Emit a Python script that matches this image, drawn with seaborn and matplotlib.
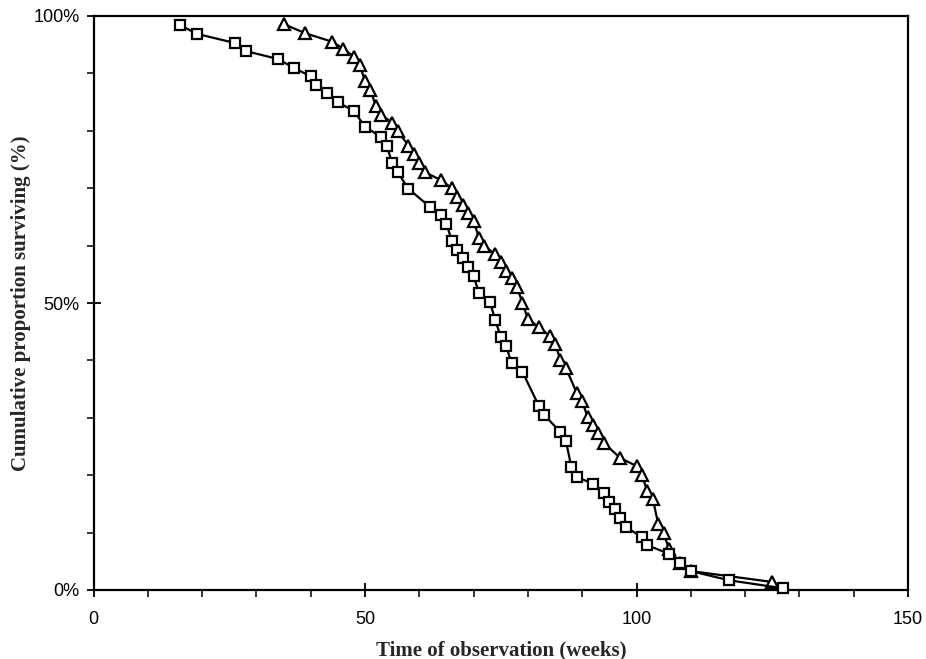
import matplotlib
matplotlib.use("Agg")
import matplotlib.pyplot as plt
from matplotlib.ticker import MultipleLocator, FuncFormatter
import seaborn as sns
import pandas as pd

# Series A (squares): weeks and cumulative proportion surviving (%)
sq_weeks = [16, 19, 26, 28, 34, 37, 40, 41, 43, 45, 48, 50, 53, 54, 55, 56, 58,
            62, 64, 65, 66, 67, 68, 69, 70, 71, 73, 74, 75, 76, 77, 79, 82, 83,
            86, 87, 88, 89, 92, 94, 95, 96, 97, 98, 101, 102, 106, 108, 110, 117, 127]
sq_surv = [98.4, 96.9, 95.3, 93.9, 92.5, 90.9, 89.5, 88.0, 86.6, 85.0, 83.4, 80.7,
           78.9, 77.4, 74.4, 72.8, 69.9, 66.7, 65.3, 63.8, 60.8, 59.2, 57.8, 56.3,
           54.7, 51.7, 50.2, 47.0, 44.1, 42.5, 39.5, 38.0, 32.1, 30.5, 27.5, 26.0,
           21.4, 19.7, 18.5, 16.9, 15.3, 14.1, 12.5, 11.0, 9.2, 7.8, 6.3, 4.7, 3.3,
           1.7, 0.3]

# Series B (triangles)
tr_weeks = [35, 39, 44, 46, 48, 49, 50, 51, 52, 53, 55, 56, 58, 59, 60, 61, 64,
            66, 67, 68, 69, 70, 71, 72, 74, 75, 76, 77, 78, 79, 80, 82, 84, 85,
            86, 87, 89, 90, 91, 92, 93, 94, 97, 100, 101, 102, 103, 104, 105, 106,
            108, 110, 125]
tr_surv = [98.6, 97.0, 95.5, 94.3, 92.9, 91.5, 88.7, 87.1, 84.3, 82.8, 81.4, 80.0,
           77.4, 76.0, 74.4, 72.8, 71.4, 70.0, 68.5, 67.1, 65.7, 64.3, 61.3, 59.9,
           58.5, 57.1, 55.6, 54.4, 52.8, 50.0, 47.2, 45.8, 44.3, 42.9, 40.1, 38.7,
           34.3, 32.9, 30.1, 28.7, 27.4, 25.6, 23.0, 21.6, 20.0, 17.2, 15.9, 11.5,
           9.9, 7.1, 4.7, 3.3, 1.4]

x_label = "Time of observation (weeks)"
y_label = "Cumulative proportion surviving (%)"

df_sq = pd.DataFrame({"weeks": sq_weeks, "surv": sq_surv})
df_tr = pd.DataFrame({"weeks": tr_weeks, "surv": tr_surv})

sns.set_theme(style="ticks")
plt.rcParams["font.family"] = ["Liberation Sans", "DejaVu Sans"]

fig = plt.figure(figsize=(9.26, 6.59), dpi=100)
ax = fig.add_axes([93.5 / 926, 1 - 590 / 659, (908 - 93.5) / 926, (590 - 16) / 659])

sns.lineplot(data=df_tr, x="weeks", y="surv", ax=ax, estimator=None, sort=False,
             color="black", linewidth=1.6, marker="^", markersize=8.5,
             markerfacecolor="white", markeredgecolor="black", markeredgewidth=1.6,
             clip_on=False, zorder=3)
sns.lineplot(data=df_sq, x="weeks", y="surv", ax=ax, estimator=None, sort=False,
             color="black", linewidth=1.6, marker="s", markersize=7.5,
             markerfacecolor="white", markeredgecolor="black", markeredgewidth=1.6,
             clip_on=False, zorder=4)

ax.set_xlim(0, 150)
ax.set_ylim(0, 100)
ax.xaxis.set_major_locator(MultipleLocator(50))
ax.xaxis.set_minor_locator(MultipleLocator(10))
ax.yaxis.set_major_locator(MultipleLocator(50))
ax.yaxis.set_minor_locator(MultipleLocator(10))
ax.yaxis.set_major_formatter(FuncFormatter(lambda v, p: f"{v:.0f}%"))

ax.tick_params(axis="both", which="major", direction="inout", length=10, width=1.3,
               labelsize=13, colors="black")
ax.tick_params(axis="both", which="minor", direction="out", length=5, width=1.3)
ax.tick_params(axis="x", which="major", pad=10)
ax.tick_params(axis="y", which="major", pad=5)

for s in ax.spines.values():
    s.set_visible(True)
    s.set_linewidth(1.6)
    s.set_color("black")

serif = ["Liberation Serif", "DejaVu Serif"]
ax.set_xlabel(x_label, fontsize=15, fontweight="bold", family=serif, labelpad=9)
ax.set_ylabel(y_label, fontsize=15, fontweight="bold", family=serif, labelpad=2)

fig.savefig("out.png", dpi=100)
